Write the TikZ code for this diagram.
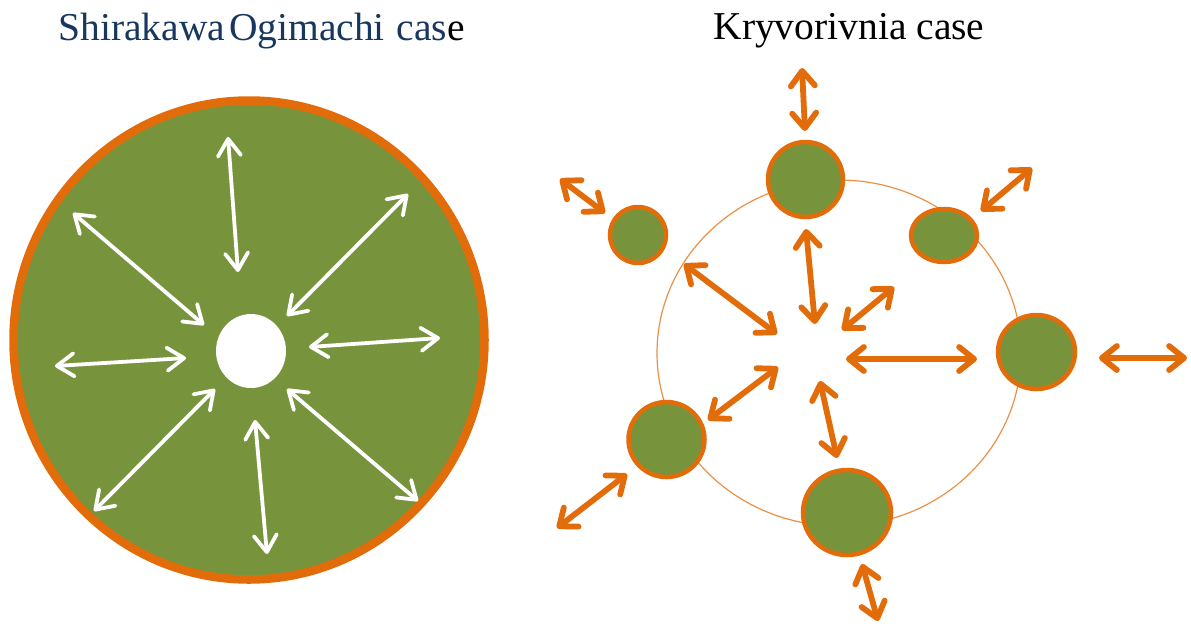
\documentclass[tikz,border=0pt]{standalone}
\usepackage{fontspec}
\setmainfont{Liberation Serif}
\usetikzlibrary{arrows.meta,shapes.geometric}
\definecolor{leaf}{HTML}{77933C}
\definecolor{rim}{HTML}{E36C0A}
\definecolor{navy}{HTML}{17375E}
\begin{document}
\begin{tikzpicture}[x=1pt,y=-1pt,
  title/.style={anchor=base, font=\fontsize{39.5}{44}\selectfont, inner sep=0pt},
  blob/.style={ellipse, inner sep=0pt},
  town/.style={blob, fill=leaf, draw=rim, line width=4.5pt},
  wlink/.style={draw=white, line width=3.8pt, line cap=round,
    {Straight Barb[round,length=17pt,width=23pt]}-{Straight Barb[round,length=17pt,width=23pt]}},
  olink/.style={draw=rim, line width=5.8pt, line cap=round,
    {Straight Barb[round,length=15pt,width=24pt]}-{Straight Barb[round,length=15pt,width=24pt]}},
]
\useasboundingbox (0,0) rectangle (1191,625);

% ---- titles ----
\node[title, text=navy] (titleA) at (261.5,40)
  {Shirakawa\hspace{0.1em}Ogimachi\hspace{0.3em}cas\textcolor{black}{e}};
\node[title] (titleB) at (849,39) {Kryvorivnia case};

% ---- left: one large settlement area with a centre ----
\node[blob, fill=leaf, draw=rim, line width=8.5pt,
      minimum width=471pt, minimum height=479pt] (field) at (249,340) {};
\node[blob, fill=white, minimum width=70pt, minimum height=74pt] (hole) at (251,351) {};

\foreach \n/\a/\b in {
    w1/{228,137}/{238,272},
    w2/{73,213}/{204,325},
    w3/{408,194}/{287,316},
    w4/{55,366}/{186,358},
    w5/{309,347}/{440,338},
    w6/{215,389}/{94,511},
    w7/{255,420}/{267,554},
    w8/{287,389}/{418,501}} {
  \coordinate (\n a) at (\a);
  \coordinate (\n b) at (\b);
  \draw[wlink] (\n a) -- (\n b);
}

% ---- right: scattered hamlets around a ring ----
\node[blob, draw=rim!75, line width=1.2pt,
      minimum width=364pt, minimum height=346pt] (ring) at (839,353) {};

\node[town, minimum width=75pt, minimum height=75pt] (h1) at (805.5,179.5) {};
\node[town, minimum width=56pt, minimum height=56pt] (h2) at (638,235) {};
\node[town, minimum width=66pt, minimum height=53pt] (h3) at (944,235.5) {};
\node[town, minimum width=77pt, minimum height=74pt] (h4) at (1036.5,352) {};
\node[town, minimum width=76pt, minimum height=75pt] (h5) at (666.5,439.5) {};
\node[town, minimum width=88pt, minimum height=85pt] (h6) at (847,512.5) {};

\foreach \n/\a/\b in {
    o1/{806,229}/{815,324},
    o2/{684,264}/{777,334},
    o3/{894,287}/{842,330},
    o4/{846,359}/{977,359},
    o5/{778,367}/{708,420},
    o6/{820,381}/{837,458},
    p1/{802,68}/{805,131},
    p2/{560,179}/{605,213},
    p3/{1032,168}/{981,211},
    p4/{1099,358}/{1187,358},
    p5/{557,528}/{627,474},
    p6/{862,564}/{878,621}} {
  \coordinate (\n a) at (\a);
  \coordinate (\n b) at (\b);
  \draw[olink] (\n a) -- (\n b);
}
\end{tikzpicture}
\end{document}
